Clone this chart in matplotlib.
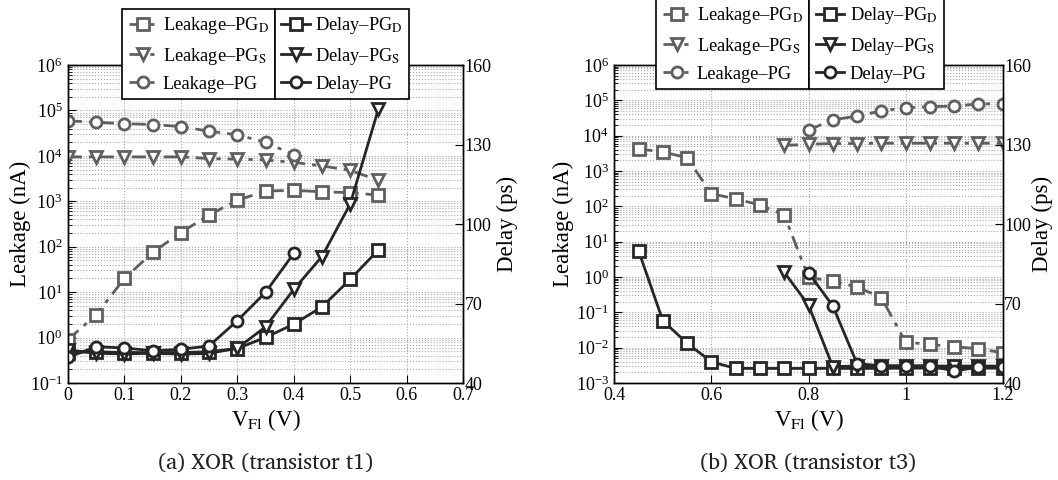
import matplotlib
matplotlib.use("Agg")
import matplotlib.pyplot as plt
from matplotlib.ticker import LogLocator, FixedLocator, NullFormatter, LogFormatterSciNotation
from matplotlib.lines import Line2D

plt.rcParams["font.family"] = ["Liberation Serif", "STIXGeneral", "DejaVu Serif"]
plt.rcParams["mathtext.fontset"] = "stix"

# ---- (a) XOR, transistor t1 ----
a_vfl = [0.0, 0.05, 0.10, 0.15, 0.20, 0.25, 0.30, 0.35, 0.40, 0.45, 0.50, 0.55]
a_vfl_pg = [0.0, 0.05, 0.10, 0.15, 0.20, 0.25, 0.30, 0.35, 0.40]
a_leak_pgd = [0.9, 3.2, 20, 75, 204, 500, 1050, 1680, 1740, 1620, 1550, 1370]
a_leak_pgs = [9.5e3, 9.5e3, 9.5e3, 9.5e3, 9.5e3, 8.7e3, 8.5e3, 8.1e3, 7.2e3, 6.0e3, 4.8e3, 2.9e3]
a_leak_pg = [5.9e4, 5.5e4, 5.1e4, 4.9e4, 4.4e4, 3.5e4, 2.9e4, 2.0e4, 1.05e4]
a_delay_pgd = [51.5, 51.8, 51.5, 51.5, 51.5, 51.8, 53.0, 57.2, 62.2, 68.7, 79.1, 90.2]
a_delay_pgs = [52.5, 51.2, 51.0, 51.2, 50.9, 51.2, 53.1, 61.2, 75.3, 87.7, 107.5, 143.3]
a_delay_pg = [49.7, 53.7, 53.2, 52.2, 52.7, 54.0, 63.5, 74.2, 88.9]

# ---- (b) XOR, transistor t3 ----
b_vfl_d = [0.45, 0.50, 0.55, 0.60, 0.65, 0.70, 0.75, 0.80, 0.85, 0.90, 0.95, 1.00, 1.05, 1.10, 1.15, 1.20]
b_vfl_s = [0.75, 0.80, 0.85, 0.90, 0.95, 1.00, 1.05, 1.10, 1.15, 1.20]
b_vfl_g = [0.80, 0.85, 0.90, 0.95, 1.00, 1.05, 1.10, 1.15, 1.20]
b_leak_pgd = [4.2e3, 3.5e3, 2.35e3, 227, 163, 109, 57, 0.98, 0.76, 0.52, 0.26, 0.0144, 0.0123, 0.0107, 0.0093, 0.0072]
b_leak_pgs = [5.3e3, 5.7e3, 6.0e3, 6.0e3, 6.1e3, 6.1e3, 6.1e3, 6.1e3, 6.1e3, 6.1e3]
b_leak_pg = [1.45e4, 2.8e4, 3.6e4, 5.0e4, 6.2e4, 6.6e4, 6.9e4, 7.9e4, 8.1e4]
b_delay_pgd = [89.9, 63.5, 55.0, 48.0, 45.5, 45.5, 45.5, 45.5, 45.5, 45.5, 45.5, 45.6, 45.6, 45.6, 45.6, 45.6]
b_delay_pgs = [81.8, 69.4, 46.2, 46.4, 46.4, 46.4, 46.4, 46.4, 46.4, 46.4]
b_delay_pg = [81.6, 69.1, 47.3, 46.5, 46.5, 46.5, 44.5, 46.0, 46.0]

leak_labels = ["Leakage\u2013PG$_\\mathrm{D}$", "Leakage\u2013PG$_\\mathrm{S}$", "Leakage\u2013PG"]
delay_labels = ["Delay\u2013PG$_\\mathrm{D}$", "Delay\u2013PG$_\\mathrm{S}$", "Delay\u2013PG"]
markers = ["s", "v", "o"]

LEAK_C = "#5f5f5f"
DELAY_C = "#262626"
leak_style = dict(color=LEAK_C, lw=2.0, dashes=(5, 2.5, 1.5, 2.5), mfc="white", mec=LEAK_C, mew=2.0, ms=8)
delay_style = dict(color=DELAY_C, lw=2.0, ls="-", mfc="white", mec=DELAY_C, mew=2.0, ms=8)

TICK_FS = 13
LABEL_FS = 16.5
W, H = 1058.0, 480.0

fig = plt.figure(figsize=(10.58, 4.8), dpi=100)


def panel(px, xlim, xticks, xticklabels, ylo, yhi, leak, delay, caption, ylab_px, y2lab_px):
    left, right = px
    top, bottom = 65.0, 383.0
    ax = fig.add_axes([left / W, 1 - bottom / H, (right - left) / W, (bottom - top) / H])
    ax2 = ax.twinx()
    for (x, y), m in zip(leak, markers):
        ax.plot(x, y, marker=m, **leak_style)
    for (x, y), m in zip(delay, markers):
        ax2.plot(x, y, marker=m, **delay_style)

    ax.set_yscale("log")
    ax.set_ylim(10.0 ** ylo, 10.0 ** yhi)
    ax.yaxis.set_major_locator(FixedLocator([10.0 ** k for k in range(ylo, yhi + 1)]))
    ax.yaxis.set_major_formatter(LogFormatterSciNotation())
    ax.yaxis.set_minor_locator(LogLocator(base=10, subs=range(2, 10), numticks=50))
    ax.yaxis.set_minor_formatter(NullFormatter())
    ax.set_xlim(*xlim)
    ax.set_xticks(xticks)
    ax.set_xticklabels(xticklabels)

    ax2.set_ylim(40, 160)
    ax2.set_yticks([40, 70, 100, 130, 160])

    ax.grid(True, which="major", axis="x", ls=":", color="#a8a8a8", lw=0.8)
    ax.grid(True, which="both", axis="y", ls=":", color="#a8a8a8", lw=0.8)
    ax.set_axisbelow(True)

    ax.tick_params(axis="both", which="both", direction="in", labelsize=TICK_FS, top=True, pad=4)
    ax.tick_params(axis="y", which="major", length=6)
    ax.tick_params(axis="y", which="minor", length=3)
    ax.tick_params(axis="x", which="major", length=6, pad=3)
    ax2.tick_params(axis="y", direction="in", labelsize=TICK_FS, length=6, pad=1)
    for a in (ax, ax2):
        for s in a.spines.values():
            s.set_linewidth(1.0)
            s.set_color("black")

    wpx = right - left
    ax.set_ylabel("Leakage (nA)", fontsize=LABEL_FS, ha="center", va="center")
    ax.yaxis.set_label_coords((ylab_px - left) / wpx, 0.5)
    ax2.set_ylabel("Delay (ps)", fontsize=LABEL_FS, ha="center", va="center")
    ax2.yaxis.set_label_coords((y2lab_px - left) / wpx, 0.5)
    ax.set_xlabel("V$_\\mathrm{Fl}$ (V)", fontsize=LABEL_FS, labelpad=2)

    fig.text((left + right) / 2 / W, 1 - 463 / H, caption, ha="center", va="center",
             fontsize=15.5, family=["Charis SIL", "DejaVu Serif"], color="#222222")
    return ax, ax2


def legends(ax2, divider_px, top_px):
    lh = [Line2D([], [], marker=m, **leak_style) for m in markers]
    dh = [Line2D([], [], marker=m, **delay_style) for m in markers]
    common = dict(fontsize=13.2, frameon=True, fancybox=False, framealpha=1.0, edgecolor="black",
                  handlelength=1.55, handletextpad=0.3, borderpad=0.35, labelspacing=0.5,
                  borderaxespad=0.0, bbox_transform=fig.transFigure)
    anchor = (divider_px / W, 1 - top_px / H)
    leg1 = ax2.legend(lh, leak_labels, loc="upper right", bbox_to_anchor=anchor, **common)
    leg1.get_frame().set_linewidth(1.2)
    ax2.add_artist(leg1)
    leg2 = ax2.legend(dh, delay_labels, loc="upper left", bbox_to_anchor=anchor, **common)
    leg2.get_frame().set_linewidth(1.2)
    for lg in (leg1, leg2):
        lg.set_zorder(20)


ax_a, ax2_a = panel((68.0, 463.0), (0, 0.7), [0, 0.1, 0.2, 0.3, 0.4, 0.5, 0.6, 0.7],
                    ["0", "0.1", "0.2", "0.3", "0.4", "0.5", "0.6", "0.7"], -1, 6,
                    [(a_vfl, a_leak_pgd), (a_vfl, a_leak_pgs), (a_vfl_pg, a_leak_pg)],
                    [(a_vfl, a_delay_pgd), (a_vfl, a_delay_pgs), (a_vfl_pg, a_delay_pg)],
                    "(a) XOR (transistor t1)", 20.0, 507.0)
ax_b, ax2_b = panel((614.3, 1002.7), (0.4, 1.2), [0.4, 0.6, 0.8, 1.0, 1.2],
                    ["0.4", "0.6", "0.8", "1", "1.2"], -3, 6,
                    [(b_vfl_d, b_leak_pgd), (b_vfl_s, b_leak_pgs), (b_vfl_g, b_leak_pg)],
                    [(b_vfl_d, b_delay_pgd), (b_vfl_s, b_delay_pgs), (b_vfl_g, b_delay_pg)],
                    "(b) XOR (transistor t3)", 563.0, 1042.0)

legends(ax2_a, 275.0, 9.0)
legends(ax2_b, 809.3, -1.0)

fig.savefig("out.png", dpi=100)
